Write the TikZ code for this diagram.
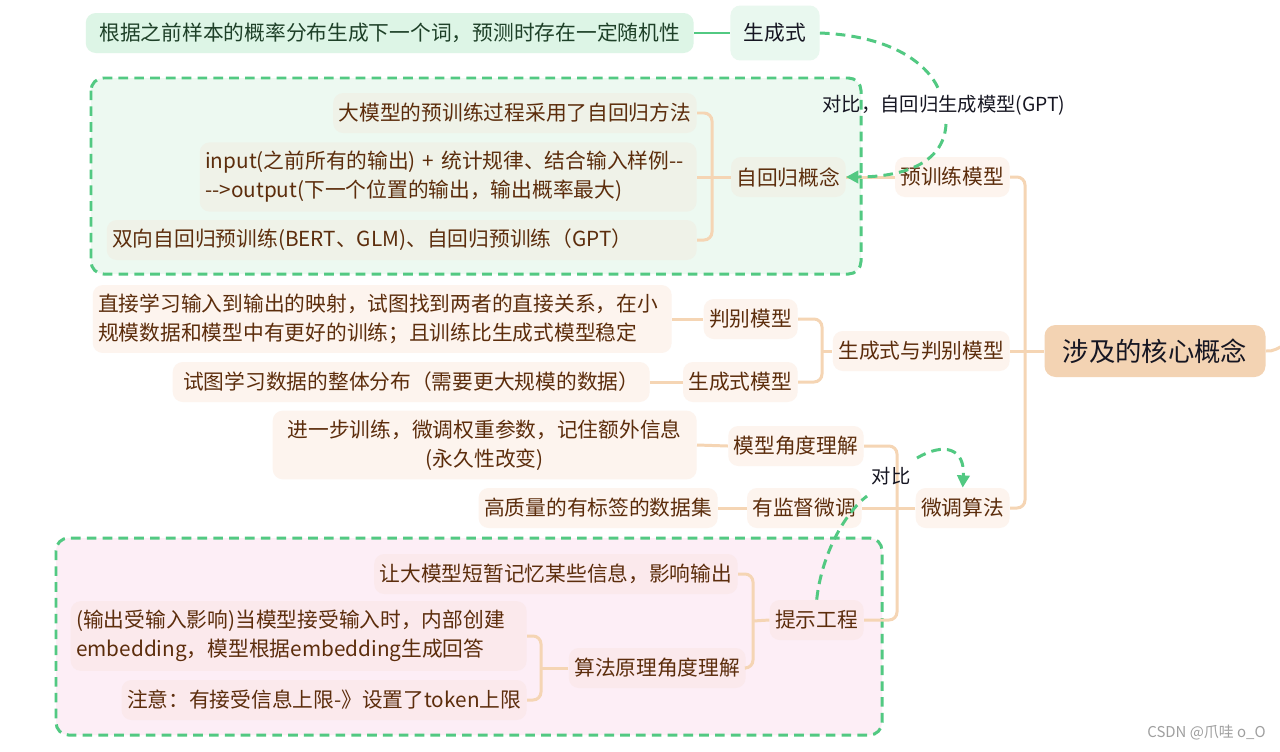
\documentclass[tikz,border=0pt]{standalone}
\usepackage{fontspec}
\setmainfont{Noto Sans CJK SC}[Ligatures=TeXOff]
\usetikzlibrary{arrows.meta}

\definecolor{linegreen}{RGB}{82,201,130}
\definecolor{linepeach}{RGB}{245,213,180}
\definecolor{txtbrown}{RGB}{92,45,12}
\definecolor{txtdark}{RGB}{22,22,34}
\definecolor{txtgreen}{RGB}{30,64,40}
\definecolor{nodepeach}{RGB}{253,244,238}
\definecolor{nodegreen}{RGB}{239,242,232}
\definecolor{nodepink}{RGB}{251,233,236}
\definecolor{regiongreen}{RGB}{237,249,241}
\definecolor{regionpink}{RGB}{253,238,246}
\definecolor{rootfill}{RGB}{243,211,179}
\definecolor{gentop}{RGB}{233,248,239}
\definecolor{genleaf}{RGB}{221,245,230}

\begin{document}
\begin{tikzpicture}[x=.02cm,y=-.02cm,
  base/.style={rounded corners=.2cm,inner xsep=.11cm,inner ysep=.18cm,minimum height=.8cm,
    text=txtbrown,font=\fontsize{11.8}{16.5}\selectfont},
  lvl/.style={base,fill=nodepeach},
  arbox/.style={base,fill=nodegreen,anchor=east},
  prbox/.style={base,fill=nodepink,anchor=east},
  leaf/.style={base,fill=nodepeach,anchor=east},
  conn/.style={draw=linepeach,line width=1.7pt,rounded corners=.16cm},
  cmp/.style={draw=linegreen,line width=1.7pt,dash pattern=on 5.5pt off 3.5pt},
  cmplabel/.style={font=\fontsize{11}{13}\selectfont,text=txtdark},
  region/.style={draw=linegreen,line width=1.7pt,dash pattern=on 5.5pt off 3.5pt,rounded corners=.25cm}]
\useasboundingbox (0,0) rectangle (1280,751);
\fill[white] (0,0) rectangle (1280,751);

% boundaries
\draw[region,fill=regiongreen] (91,78) rectangle (861,274);
\draw[region,fill=regionpink] (56,538) rectangle (882,735);

% root and first level
\node[base,fill=rootfill,text=txtdark,rounded corners=.22cm,minimum width=4.42cm,minimum height=1.04cm,
  font=\fontsize{15}{18}\selectfont] (root) at (1155,351) {涉及的核心概念};
\node[lvl,anchor=east] (pre) at (1010,177) {预训练模型};
\node[lvl,anchor=east] (gendis) at (1010,351) {生成式与判别模型};
\node[lvl,anchor=east] (fine) at (1010,508) {微调算法};

% pretraining
\node[arbox] (ar) at (846,177) {自回归概念};
\node[arbox] (ar1) at (697,113) {大模型的预训练过程采用了自回归方法};
\node[arbox,text width=9.72cm,align=left] (ar2) at (697,177) {input(之前所有的输出) + 统计规律、结合输入样例--\\-->output(下一个位置的输出，输出概率最大)};
\node[arbox,text width=11.58cm,align=left] (ar3) at (697,240) {双向自回归预训练(BERT、GLM)、自回归预训练（GPT）};
\node[base,fill=gentop,text=txtdark,inner xsep=.27cm,minimum height=1.1cm] (gen) at (775,33) {生成式};
\node[base,fill=genleaf,text=txtgreen,anchor=east,minimum width=12.16cm] (gen1) at (694,33) {根据之前样本的概率分布生成下一个词，预测时存在一定随机性};

% generative vs discriminative
\node[lvl,anchor=east] (dis) at (798,319) {判别模型};
\node[lvl,anchor=east] (genm) at (798,382) {生成式模型};
\node[leaf,text width=11.36cm,align=left] (dis1) at (672,319) {直接学习输入到输出的映射，试图找到两者的直接关系，在小\\规模数据和模型中有更好的训练；且训练比生成式模型稳定};
\node[leaf,minimum width=9.54cm] (genm1) at (650,382) {试图学习数据的整体分布（需要更大规模的数据）};

% fine tuning
\node[lvl,anchor=east] (view) at (864,446) {模型角度理解};
\node[lvl,anchor=east] (sft) at (862,508) {有监督微调};
\node[prbox] (prompt) at (864,620) {提示工程};
\node[leaf,text width=8.26cm,align=center] (view1) at (697,445) {进一步训练，微调权重参数，记住额外信息\\(永久性改变)};
\node[leaf] (sft1) at (718,508) {高质量的有标签的数据集};
\node[prbox] (pr1) at (738,574) {让大模型短暂记忆某些信息，影响输出};
\node[prbox] (algo) at (746,668) {算法原理角度理解};
\node[prbox,text width=8.9cm,align=left] (algo1) at (527,636) {(输出受输入影响)当模型接受输入时，内部创建\\embedding，模型根据embedding生成回答};
\node[prbox] (algo2) at (527,700) {注意：有接受信息上限-》设置了token上限};

\node[text=gray!75,font=\fontsize{8.5}{10}\selectfont,anchor=east,inner sep=0pt] (mark) at (1266,733) {CSDN @爪哇 o\_O};

% junctions
\coordinate (trunk) at (1025,351);
\coordinate (arj) at (712,177);
\coordinate (gdj) at (822,351);
\coordinate (fj) at (897,508);
\coordinate (pj) at (753,621);
\coordinate (aj) at (541,668);
\coordinate (offr) at (1286,344);

\draw[conn] (pre.east) -| (trunk) |- (fine.east);
\draw[conn] (gendis.east) -- (root.west);
\draw[conn] (root.east) .. controls (1273,352) and (1278,348) .. (offr);
\draw[conn] (pre.west) -- (ar.east);
\draw[conn] (ar1.east) -| (arj) |- (ar3.east);
\draw[conn] (ar2.east) -- (ar.west);
\draw[conn] (dis.east) -| (gdj) |- (genm.east);
\draw[conn] (gdj) -- (gendis.west);
\draw[conn] (dis1.east) -- (dis.west);
\draw[conn] (genm1.east) -- (genm.west);
\draw[conn] (view.east) -| (fj) |- (prompt.east);
\draw[conn] (fine.west) -- (sft.east);
\draw[conn] (view1.east) -- (view.west);
\draw[conn] (sft1.east) -- (sft.west);
\draw[conn] (pr1.east) -| (pj) |- (algo.east);
\draw[conn] (pj) -- (prompt.west);
\draw[conn] (algo1.east) -| (aj) |- (algo2.east);
\draw[conn] (aj) -- (algo.west);

% comparisons
\draw[draw=linegreen,line width=1.7pt] (gen1.east) -- (gen.west);
\coordinate (c1) at (938,88);
\coordinate (c2) at (946,124);
\node[cmplabel] (cmp1) at (944,105) {对比，自回归生成模型(GPT)};
\draw[cmp] (gen.east) .. controls (895,36) and (928,66) .. (c1);
\draw[cmp,-{Triangle[length=7pt,width=7pt]}] (c2) .. controls (944,165) and (900,177) .. (ar.east);
\coordinate (c3) at (867,496);
\coordinate (c4) at (917,458);
\node[cmplabel] (cmp2) at (891,476) {对比};
\draw[cmp] (prompt.north) .. controls (822,552) and (846,512) .. (c3);
\draw[cmp,-{Triangle[length=7pt,width=7pt]}] (c4) .. controls (944,442) and (965,448) .. (fine.north);
\end{tikzpicture}
\end{document}
